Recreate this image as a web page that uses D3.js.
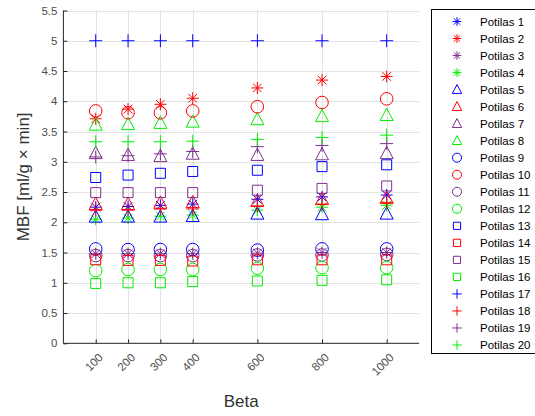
<!DOCTYPE html>
<html>
<head>
<meta charset="utf-8">
<script src="https://cdn.jsdelivr.net/npm/d3@7"></script>
<style>
  body { margin: 0; background: #fff; }
  svg text { font-family: "Liberation Sans", Arial, sans-serif; }
</style>
</head>
<body>
<svg id="chart" width="535" height="416"></svg>
<script>
// x values (Beta)
var betaValues = [100, 200, 300, 400, 600, 800, 1000];
var yTicks = [0, 0.5, 1, 1.5, 2, 2.5, 3, 3.5, 4, 4.5, 5, 5.5];

// MBF per patient, one row per Beta value above
var potilas1  = [2.25, 2.26, 2.28, 2.30, 2.38, 2.42, 2.45];
var potilas2  = [3.71, 3.87, 3.95, 4.05, 4.22, 4.35, 4.41];
var potilas3  = [1.48, 1.48, 1.48, 1.48, 1.49, 1.50, 1.50];
var potilas4  = [2.05, 2.07, 2.10, 2.12, 2.20, 2.25, 2.28];
var potilas5  = [2.09, 2.09, 2.09, 2.10, 2.14, 2.13, 2.14];
var potilas6  = [2.30, 2.30, 2.32, 2.33, 2.35, 2.38, 2.40];
var potilas7  = [3.14, 3.11, 3.09, 3.13, 3.11, 3.12, 3.14];
var potilas8  = [3.61, 3.62, 3.64, 3.66, 3.70, 3.75, 3.77];
var potilas9  = [1.56, 1.55, 1.55, 1.55, 1.54, 1.56, 1.56];
var potilas10 = [3.84, 3.81, 3.81, 3.84, 3.91, 3.98, 4.04];
var potilas11 = [1.45, 1.45, 1.45, 1.45, 1.46, 1.46, 1.47];
var potilas12 = [1.20, 1.22, 1.22, 1.22, 1.24, 1.25, 1.25];
var potilas13 = [2.74, 2.78, 2.81, 2.84, 2.86, 2.92, 2.95];
var potilas14 = [1.38, 1.37, 1.37, 1.36, 1.38, 1.38, 1.38];
var potilas15 = [2.49, 2.49, 2.49, 2.49, 2.53, 2.56, 2.60];
var potilas16 = [0.99, 1.00, 1.00, 1.02, 1.03, 1.04, 1.05];
var potilas17 = [5.00, 5.00, 5.00, 5.00, 5.00, 5.00, 5.00];
var potilas18 = [2.20, 2.20, 2.22, 2.22, 2.27, 2.30, 2.33];
var potilas19 = [3.08, 3.10, 3.13, 3.17, 3.25, 3.27, 3.30];
var potilas20 = [3.33, 3.33, 3.33, 3.34, 3.37, 3.40, 3.44];

var series = [potilas1, potilas2, potilas3, potilas4, potilas5, potilas6, potilas7,
  potilas8, potilas9, potilas10, potilas11, potilas12, potilas13, potilas14,
  potilas15, potilas16, potilas17, potilas18, potilas19, potilas20];
var seriesNames = series.map(function(d, i) { return 'Potilas ' + (i + 1); });

// color cycles every 4 series, marker changes every 4 series
var colors = ['#0000ff', '#ff0000', '#7e2f8e', '#00ee00'];
var markers = ['asterisk', 'triangle', 'circle', 'square', 'plus'];

var plotLeft = 63.4, plotRight = 419, plotTop = 10.5, plotBottom = 343.3;

var x = d3.scaleLinear().domain([0, 1100]).range([plotLeft, plotRight]);
var y = d3.scaleLinear().domain([0, 5.5]).range([plotBottom, plotTop]);

var svg = d3.select('#chart');

// marker path, k scales size
function markerPath(type, k) {
  var p = d3.path();
  var s, d;
  if (type === 'asterisk') {
    s = 6 * k; d = s * 0.72;
    p.moveTo(-s, 0); p.lineTo(s, 0);
    p.moveTo(0, -s); p.lineTo(0, s);
    p.moveTo(-d, -d); p.lineTo(d, d);
    p.moveTo(-d, d); p.lineTo(d, -d);
  } else if (type === 'triangle') {
    p.moveTo(0, -7 * k); p.lineTo(6.5 * k, 5.3 * k); p.lineTo(-6.5 * k, 5.3 * k); p.closePath();
  } else if (type === 'circle') {
    s = 6.3 * k;
    p.moveTo(s, 0); p.arc(0, 0, s, 0, 2 * Math.PI);
  } else if (type === 'square') {
    s = 5 * k;
    p.rect(-s, -s, 2 * s, 2 * s);
  } else {
    s = 6.5 * k;
    p.moveTo(-s, 0); p.lineTo(s, 0);
    p.moveTo(0, -s); p.lineTo(0, s);
  }
  return p.toString();
}

// grid
var grid = svg.append('g').attr('class', 'grid')
  .attr('stroke', '#e3e3e3').attr('stroke-width', 1);
grid.selectAll('line.gx').data(betaValues).enter().append('line')
  .attr('x1', function(d) { return Math.round(x(d)) + 0.5; })
  .attr('x2', function(d) { return Math.round(x(d)) + 0.5; })
  .attr('y1', plotTop).attr('y2', plotBottom);
grid.selectAll('line.gy').data(yTicks).enter().append('line')
  .attr('x1', plotLeft).attr('x2', plotRight)
  .attr('y1', function(d) { return Math.round(y(d)) + 0.5; })
  .attr('y2', function(d) { return Math.round(y(d)) + 0.5; });

// axes (ticks inside, like MATLAB)
var yAxis = d3.axisRight(y).tickValues(yTicks).tickSize(4).tickFormat('');
svg.append('g').attr('transform', 'translate(' + plotLeft + ',0)').call(yAxis)
  .call(function(g) { g.select('.domain').remove(); })
  .selectAll('line').attr('stroke', '#262626');

var xAxis = d3.axisTop(x).tickValues(betaValues).tickSize(4).tickFormat('');
svg.append('g').attr('transform', 'translate(0,' + plotBottom + ')').call(xAxis)
  .call(function(g) { g.select('.domain').remove(); })
  .selectAll('line').attr('stroke', '#262626');

svg.append('line').attr('x1', plotLeft).attr('x2', plotLeft).attr('y1', plotTop).attr('y2', plotBottom)
  .attr('stroke', '#262626').attr('stroke-width', 1);
svg.append('line').attr('x1', plotLeft).attr('x2', plotRight).attr('y1', plotBottom).attr('y2', plotBottom)
  .attr('stroke', '#262626').attr('stroke-width', 1);

// tick labels
svg.append('g').selectAll('text').data(yTicks).enter().append('text')
  .attr('x', plotLeft - 6).attr('y', function(d) { return y(d); })
  .attr('dy', '0.35em').attr('text-anchor', 'end')
  .attr('font-size', 11.5).attr('fill', '#4d4d4d')
  .text(function(d) { return d; });

svg.append('g').selectAll('text').data(betaValues).enter().append('text')
  .attr('transform', function(d) { return 'translate(' + (x(d) + 5) + ',' + (plotBottom + 12) + ') rotate(-45)'; })
  .attr('dy', '0.35em').attr('text-anchor', 'end')
  .attr('font-size', 11.5).attr('fill', '#4d4d4d')
  .text(function(d) { return d; });

// axis labels
svg.append('text').attr('x', (plotLeft + plotRight) / 2).attr('y', 401).attr('dy', '0.35em')
  .attr('text-anchor', 'middle').attr('font-size', 17).attr('fill', '#333')
  .text('Beta');
svg.append('text').attr('transform', 'translate(23,' + ((plotTop + plotBottom) / 2) + ') rotate(-90)')
  .attr('dy', '0.35em').attr('text-anchor', 'middle').attr('font-size', 17).attr('fill', '#333')
  .text('MBF [ml/g \u00d7 min]');

// series markers
series.forEach(function(vals, i) {
  var color = colors[i % 4];
  var marker = markers[Math.floor(i / 4)];
  svg.append('g').attr('class', 'series')
    .selectAll('path').data(vals).enter().append('path')
    .attr('transform', function(d, j) { return 'translate(' + x(betaValues[j]) + ',' + y(d) + ')'; })
    .attr('d', markerPath(marker, 1))
    .attr('fill', 'none').attr('stroke', color).attr('stroke-width', 1);
});

// legend
var legend = svg.append('g').attr('class', 'legend');
legend.append('rect').attr('x', 431.5).attr('y', 9.5).attr('width', 110).attr('height', 344)
  .attr('fill', '#fff').attr('stroke', '#000').attr('stroke-width', 1);
var rowY = d3.scaleLinear().domain([0, 19]).range([21.5, 345]);
var rows = legend.selectAll('g.row').data(seriesNames).enter().append('g')
  .attr('transform', function(d, i) { return 'translate(0,' + rowY(i) + ')'; });
rows.append('path')
  .attr('transform', 'translate(457,0)')
  .attr('d', function(d, i) { return markerPath(markers[Math.floor(i / 4)], 0.72); })
  .attr('fill', 'none').attr('stroke', function(d, i) { return colors[i % 4]; })
  .attr('stroke-width', 1);
rows.append('text').attr('x', 480).attr('dy', '0.35em')
  .attr('font-size', 11.5).attr('fill', '#000')
  .text(function(d) { return d; });
</script>
</body>
</html>
